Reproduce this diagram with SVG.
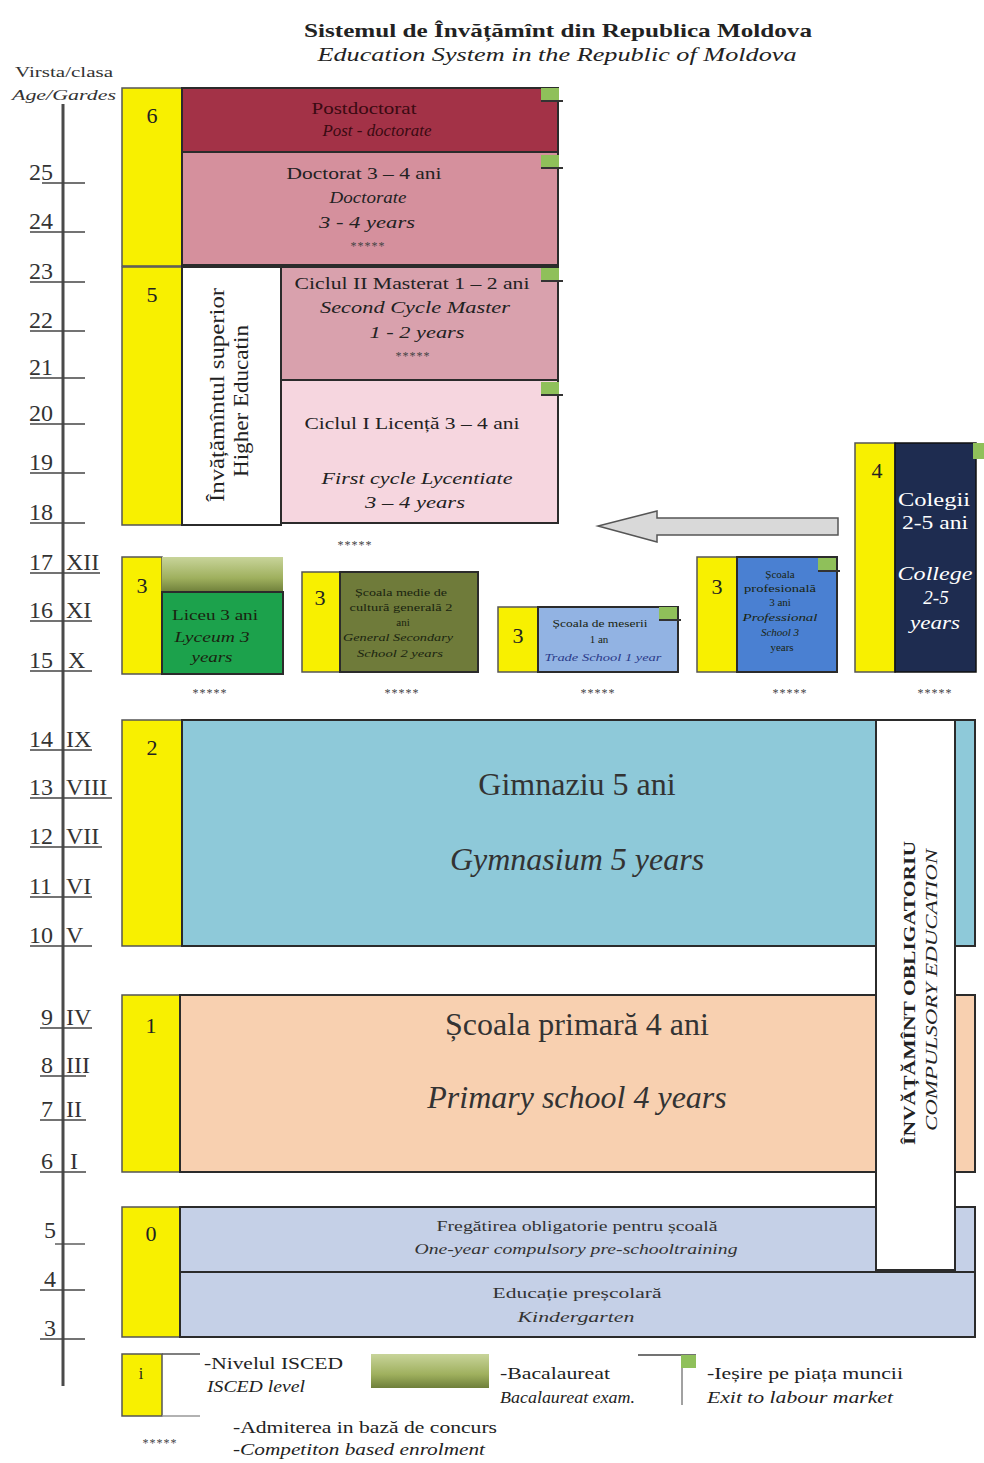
<svg xmlns="http://www.w3.org/2000/svg" width="984" height="1463" viewBox="0 0 984 1463">
<defs>
<linearGradient id="bac" x1="0" y1="0" x2="0" y2="1">
<stop offset="0" stop-color="#c8d49a"/><stop offset="0.6" stop-color="#9fb05e"/><stop offset="1" stop-color="#6e7f3a"/>
</linearGradient>
<g id="exit"><rect x="0" y="0" width="18" height="12" fill="#8fc05a"/><line x1="0" y1="13" x2="22" y2="13" stroke="#333" stroke-width="2"/></g>
</defs>
<style>
text{font-family:"Liberation Serif","Times New Roman",serif;fill:#222}
.it{font-style:italic}
.c{text-anchor:middle}
.w{fill:#fff}
.dr{fill:#3a0a12}
.g3{fill:#333}
.dk{fill:#1a2410}
.bl{fill:#2a3a8a}
.box{stroke:#2b2b2b;stroke-width:2}
.yl{fill:#f8f000;stroke:#555;stroke-width:1.5}
.age{font-size:24px;fill:#333}
.tick{stroke:#444;stroke-width:1.3}
.lvl{font-size:22px;text-anchor:middle}
.st{font-size:12px;letter-spacing:1px;text-anchor:middle;fill:#444}
</style>
<rect width="984" height="1463" fill="#fff"/>
<g id="title">
<text x="558" y="37" class="c" font-size="19" font-weight="bold" textLength="508" lengthAdjust="spacingAndGlyphs">Sistemul de Învățămînt din Republica Moldova</text>
<text x="557" y="61" class="c it" font-size="19" textLength="479" lengthAdjust="spacingAndGlyphs">Education System in the Republic of Moldova</text>
</g>
<g id="axis">
<text x="64" y="77" class="c g3" font-size="15" textLength="98" lengthAdjust="spacingAndGlyphs">Virsta/clasa</text>
<text x="64" y="100" class="c it g3" font-size="15" textLength="104" lengthAdjust="spacingAndGlyphs">Age/Gardes</text>
<line x1="63" y1="104" x2="63" y2="1386" stroke="#4a4a4a" stroke-width="3"/>
<g>
<text class="age" x="29" y="180">25</text><line class="tick" x1="42" y1="183" x2="85" y2="183"/>
<text class="age" x="29" y="229">24</text><line class="tick" x1="30" y1="232" x2="85" y2="232"/>
<text class="age" x="29" y="279">23</text><line class="tick" x1="30" y1="282" x2="85" y2="282"/>
<text class="age" x="29" y="328">22</text><line class="tick" x1="30" y1="331" x2="85" y2="331"/>
<text class="age" x="29" y="375">21</text><line class="tick" x1="30" y1="378" x2="85" y2="378"/>
<text class="age" x="29" y="421">20</text><line class="tick" x1="30" y1="424" x2="85" y2="424"/>
<text class="age" x="29" y="470">19</text><line class="tick" x1="30" y1="473" x2="85" y2="473"/>
<text class="age" x="29" y="520">18</text><line class="tick" x1="30" y1="523" x2="85" y2="523"/>
<text class="age" x="29" y="570">17</text><text class="age" x="66" y="570">XII</text><line class="tick" x1="30" y1="573" x2="100" y2="573"/>
<text class="age" x="29" y="618">16</text><text class="age" x="66" y="618">XI</text><line class="tick" x1="30" y1="621" x2="92" y2="621"/>
<text class="age" x="29" y="668">15</text><text class="age" x="68" y="668">X</text><line class="tick" x1="30" y1="671" x2="92" y2="671"/>
<text class="age" x="29" y="747">14</text><text class="age" x="66" y="747">IX</text><line class="tick" x1="30" y1="750" x2="92" y2="750"/>
<text class="age" x="29" y="795">13</text><text class="age" x="66" y="795">VIII</text><line class="tick" x1="30" y1="798" x2="112" y2="798"/>
<text class="age" x="29" y="844">12</text><text class="age" x="66" y="844">VII</text><line class="tick" x1="30" y1="847" x2="102" y2="847"/>
<text class="age" x="29" y="894">11</text><text class="age" x="66" y="894">VI</text><line class="tick" x1="30" y1="897" x2="92" y2="897"/>
<text class="age" x="29" y="943">10</text><text class="age" x="66" y="943">V</text><line class="tick" x1="30" y1="946" x2="92" y2="946"/>
<text class="age" x="41" y="1025">9</text><text class="age" x="66" y="1025">IV</text><line class="tick" x1="40" y1="1028" x2="92" y2="1028"/>
<text class="age" x="41" y="1073">8</text><text class="age" x="66" y="1073">III</text><line class="tick" x1="40" y1="1076" x2="86" y2="1076"/>
<text class="age" x="41" y="1117">7</text><text class="age" x="66" y="1117">II</text><line class="tick" x1="40" y1="1120" x2="86" y2="1120"/>
<text class="age" x="41" y="1169">6</text><text class="age" x="70" y="1169">I</text><line class="tick" x1="40" y1="1172" x2="86" y2="1172"/>
<text class="age" x="44" y="1238">5</text><line class="tick" x1="55" y1="1244" x2="85" y2="1244"/>
<text class="age" x="44" y="1287">4</text><line class="tick" x1="40" y1="1290" x2="85" y2="1290"/>
<text class="age" x="44" y="1336">3</text><line class="tick" x1="40" y1="1339" x2="85" y2="1339"/>
</g>
</g>
<g id="level6">
<rect class="yl" x="122" y="88" width="60" height="178"/>
<text x="152" y="123" class="lvl">6</text>
<rect class="box" x="182" y="88" width="376" height="64" fill="#a33247"/>
<text x="364" y="114" class="c dr" font-size="17" textLength="105" lengthAdjust="spacingAndGlyphs">Postdoctorat</text>
<text x="377" y="136" class="c it dr" font-size="17" textLength="109" lengthAdjust="spacingAndGlyphs">Post - doctorate</text>
<rect class="box" x="182" y="152" width="376" height="113" fill="#d5909d"/>
<text x="364" y="179" class="c" font-size="17" textLength="155" lengthAdjust="spacingAndGlyphs">Doctorat 3 – 4 ani</text>
<text x="368" y="203" class="c it" font-size="17" textLength="77" lengthAdjust="spacingAndGlyphs">Doctorate</text>
<text x="367" y="228" class="c it" font-size="17" textLength="96" lengthAdjust="spacingAndGlyphs">3 - 4 years</text>
<text x="368" y="250" class="st">*****</text>
<use href="#exit" x="541" y="88"/>
<use href="#exit" x="541" y="155"/>
</g>
<g id="level5">
<rect class="yl" x="122" y="267" width="60" height="258"/>
<text x="152" y="302" class="lvl">5</text>
<rect class="box" x="182" y="267" width="99" height="258" fill="#fff"/>
<text transform="translate(224,395) rotate(-90)" class="c" font-size="20" textLength="214" lengthAdjust="spacingAndGlyphs">Învățămîntul superior</text>
<text transform="translate(248,401) rotate(-90)" class="c" font-size="20" textLength="152" lengthAdjust="spacingAndGlyphs">Higher Educatin</text>
<rect class="box" x="281" y="267" width="277" height="113" fill="#d9a1ad"/>
<text x="412" y="289" class="c" font-size="17" textLength="235" lengthAdjust="spacingAndGlyphs">Ciclul II Masterat 1 – 2 ani</text>
<text x="415" y="313" class="c it" font-size="17" textLength="190" lengthAdjust="spacingAndGlyphs">Second Cycle Master</text>
<text x="417" y="338" class="c it" font-size="17" textLength="95" lengthAdjust="spacingAndGlyphs">1 - 2 years</text>
<text x="413" y="360" class="st">*****</text>
<rect class="box" x="281" y="380" width="277" height="143" fill="#f6d6df"/>
<text x="412" y="429" class="c" font-size="17" textLength="215" lengthAdjust="spacingAndGlyphs">Ciclul I Licență 3 – 4 ani</text>
<text x="417" y="484" class="c it" font-size="17" textLength="191" lengthAdjust="spacingAndGlyphs">First cycle Lycentiate</text>
<text x="415" y="508" class="c it" font-size="17" textLength="100" lengthAdjust="spacingAndGlyphs">3 – 4 years</text>
<use href="#exit" x="541" y="268"/>
<use href="#exit" x="541" y="382"/>
<text x="355" y="549" class="st">*****</text>
</g>
<g id="connectors">
<path d="M838,518 L657,518 L657,511 L598,526 L657,542 L657,535 L838,535 Z" fill="#d9d9d9" stroke="#555" stroke-width="1.5"/>
</g>
<g id="level4">
<rect class="yl" x="855" y="443" width="40" height="229"/>
<text x="877" y="478" class="lvl">4</text>
<rect x="895" y="443" width="81" height="229" fill="#1e2c50" stroke="#111" stroke-width="1.5"/>
<rect x="973" y="443" width="11" height="16" fill="#8fc05a"/>
<text x="934" y="506" class="c w" font-size="19" textLength="72" lengthAdjust="spacingAndGlyphs">Colegii</text>
<text x="935" y="529" class="c w" font-size="19" textLength="66" lengthAdjust="spacingAndGlyphs">2-5 ani</text>
<text x="935" y="580" class="c it w" font-size="19" textLength="75" lengthAdjust="spacingAndGlyphs">College</text>
<text x="936" y="604" class="c it w" font-size="19">2-5</text>
<text x="935" y="629" class="c it w" font-size="19" textLength="50" lengthAdjust="spacingAndGlyphs">years</text>
</g>
<g id="level3-lyceum">
<rect class="yl" x="122" y="557" width="40" height="117"/>
<text x="142" y="593" class="lvl" font-size="26">3</text>
<rect x="162" y="557" width="121" height="35" fill="url(#bac)"/>
<rect class="box" x="162" y="592" width="121" height="82" fill="#1ca24c"/>
<text x="215" y="620" class="c dk" font-size="15" textLength="86" lengthAdjust="spacingAndGlyphs">Liceu 3 ani</text>
<text x="212" y="642" class="c it dk" font-size="15" textLength="75" lengthAdjust="spacingAndGlyphs">Lyceum 3</text>
<text x="212" y="662" class="c it dk" font-size="15" textLength="41" lengthAdjust="spacingAndGlyphs">years</text>
</g>
<g id="level3-general">
<rect class="yl" x="302" y="572" width="38" height="100"/>
<text x="320" y="605" class="lvl">3</text>
<rect class="box" x="340" y="572" width="138" height="100" fill="#6f7b3a"/>
<text x="401" y="596" class="c dk" font-size="11" textLength="92" lengthAdjust="spacingAndGlyphs">Școala medie de</text>
<text x="401" y="611" class="c dk" font-size="11" textLength="103" lengthAdjust="spacingAndGlyphs">cultură generală 2</text>
<text x="403" y="626" class="c dk" font-size="11">ani</text>
<text x="398" y="641" class="c it dk" font-size="11" textLength="110" lengthAdjust="spacingAndGlyphs">General Secondary</text>
<text x="400" y="657" class="c it dk" font-size="11" textLength="86" lengthAdjust="spacingAndGlyphs">School 2 years</text>
</g>
<g id="level3-trade">
<rect class="yl" x="498" y="607" width="40" height="65"/>
<text x="518" y="643" class="lvl">3</text>
<rect class="box" x="538" y="607" width="140" height="65" fill="#92b3e3"/>
<text x="600" y="627" class="c dk" font-size="11" textLength="95" lengthAdjust="spacingAndGlyphs">Școala de meserii</text>
<text x="599" y="643" class="c dk" font-size="11">1 an</text>
<text x="603" y="661" class="c it bl" font-size="11" textLength="117" lengthAdjust="spacingAndGlyphs">Trade School 1 year</text>
<use href="#exit" x="659" y="607"/>
</g>
<g id="level3-professional">
<rect class="yl" x="697" y="557" width="40" height="115"/>
<text x="717" y="594" class="lvl">3</text>
<rect class="box" x="737" y="557" width="100" height="115" fill="#4a80d2"/>
<text x="780" y="578" class="c dk" font-size="11">Școala</text>
<text x="780" y="592" class="c dk" font-size="11" textLength="72" lengthAdjust="spacingAndGlyphs">profesională</text>
<text x="780" y="606" class="c dk" font-size="11">3 ani</text>
<text x="780" y="621" class="c it dk" font-size="11" textLength="75" lengthAdjust="spacingAndGlyphs">Professional</text>
<text x="780" y="636" class="c it dk" font-size="11">School 3</text>
<text x="782" y="651" class="c dk" font-size="11">years</text>
<use href="#exit" x="818" y="558"/>
</g>
<g id="stars">
<text x="210" y="697" class="st">*****</text>
<text x="402" y="697" class="st">*****</text>
<text x="598" y="697" class="st">*****</text>
<text x="790" y="697" class="st">*****</text>
<text x="935" y="697" class="st">*****</text>
</g>
<g id="level2">
<rect class="yl" x="122" y="720" width="60" height="226"/>
<text x="152" y="755" class="lvl">2</text>
<rect class="box" x="182" y="720" width="793" height="226" fill="#8ec9d9"/>
<text x="577" y="795" class="c g3" font-size="32">Gimnaziu 5 ani</text>
<text x="577" y="870" class="c it g3" font-size="32">Gymnasium 5 years</text>
</g>
<g id="level1">
<rect class="yl" x="122" y="995" width="58" height="177"/>
<text x="151" y="1033" class="lvl">1</text>
<rect class="box" x="180" y="995" width="795" height="177" fill="#f8d0b0"/>
<text x="577" y="1035" class="c g3" font-size="32">Școala primară 4 ani</text>
<text x="577" y="1108" class="c it g3" font-size="32">Primary school 4 years</text>
</g>
<g id="level0">
<rect class="yl" x="122" y="1207" width="58" height="130"/>
<text x="151" y="1241" class="lvl">0</text>
<rect class="box" x="180" y="1207" width="795" height="65" fill="#c5d0e7"/>
<rect class="box" x="180" y="1272" width="795" height="65" fill="#c5d0e7"/>
<text x="577" y="1231" class="c g3" font-size="15" textLength="281" lengthAdjust="spacingAndGlyphs">Fregătirea obligatorie pentru școală</text>
<text x="576" y="1254" class="c it g3" font-size="15" textLength="323" lengthAdjust="spacingAndGlyphs">One-year compulsory pre-schooltraining</text>
<text x="577" y="1298" class="c g3" font-size="15" textLength="169" lengthAdjust="spacingAndGlyphs">Educație preșcolară</text>
<text x="576" y="1322" class="c it g3" font-size="15" textLength="117" lengthAdjust="spacingAndGlyphs">Kindergarten</text>
</g>
<g id="compulsory">
<rect class="box" x="876" y="720" width="79" height="550" fill="#fff"/>
<text transform="translate(915,993) rotate(-90)" class="c" font-size="17" font-weight="bold" textLength="304" lengthAdjust="spacingAndGlyphs">ÎNVĂȚĂMÎNT OBLIGATORIU</text>
<text transform="translate(937,990) rotate(-90)" class="c it" font-size="17" textLength="282" lengthAdjust="spacingAndGlyphs">COMPULSORY EDUCATION</text>
</g>
<g id="legend">
<rect class="yl" x="122" y="1354" width="40" height="62"/>
<text x="141" y="1379" class="c" font-size="16">i</text>
<line x1="162" y1="1354" x2="200" y2="1354" stroke="#555" stroke-width="1.5"/>
<line x1="162" y1="1416" x2="200" y2="1416" stroke="#999" stroke-width="1.5"/>
<text x="204" y="1369" font-size="16" textLength="139" lengthAdjust="spacingAndGlyphs">-Nivelul ISCED</text>
<text x="207" y="1392" class="it" font-size="16" textLength="98" lengthAdjust="spacingAndGlyphs">ISCED level</text>
<rect x="371" y="1354" width="118" height="34" fill="url(#bac)"/>
<text x="500" y="1379" font-size="16" textLength="110" lengthAdjust="spacingAndGlyphs">-Bacalaureat</text>
<text x="500" y="1403" class="it" font-size="16" textLength="135" lengthAdjust="spacingAndGlyphs">Bacalaureat exam.</text>
<line x1="638" y1="1355" x2="696" y2="1355" stroke="#444" stroke-width="1.5"/>
<line x1="682" y1="1368" x2="682" y2="1405" stroke="#444" stroke-width="1"/>
<rect x="681" y="1355" width="15" height="13" fill="#8fc05a"/>
<text x="707" y="1379" font-size="16" textLength="196" lengthAdjust="spacingAndGlyphs">-Ieșire pe piața muncii</text>
<text x="707" y="1403" class="it" font-size="16" textLength="186" lengthAdjust="spacingAndGlyphs">Exit to labour market</text>
<text x="160" y="1447" class="st">*****</text>
<text x="233" y="1433" font-size="16" textLength="264" lengthAdjust="spacingAndGlyphs">-Admiterea in bază de concurs</text>
<text x="233" y="1455" class="it" font-size="16" textLength="252" lengthAdjust="spacingAndGlyphs">-Competiton based enrolment</text>
</g>
</svg>
